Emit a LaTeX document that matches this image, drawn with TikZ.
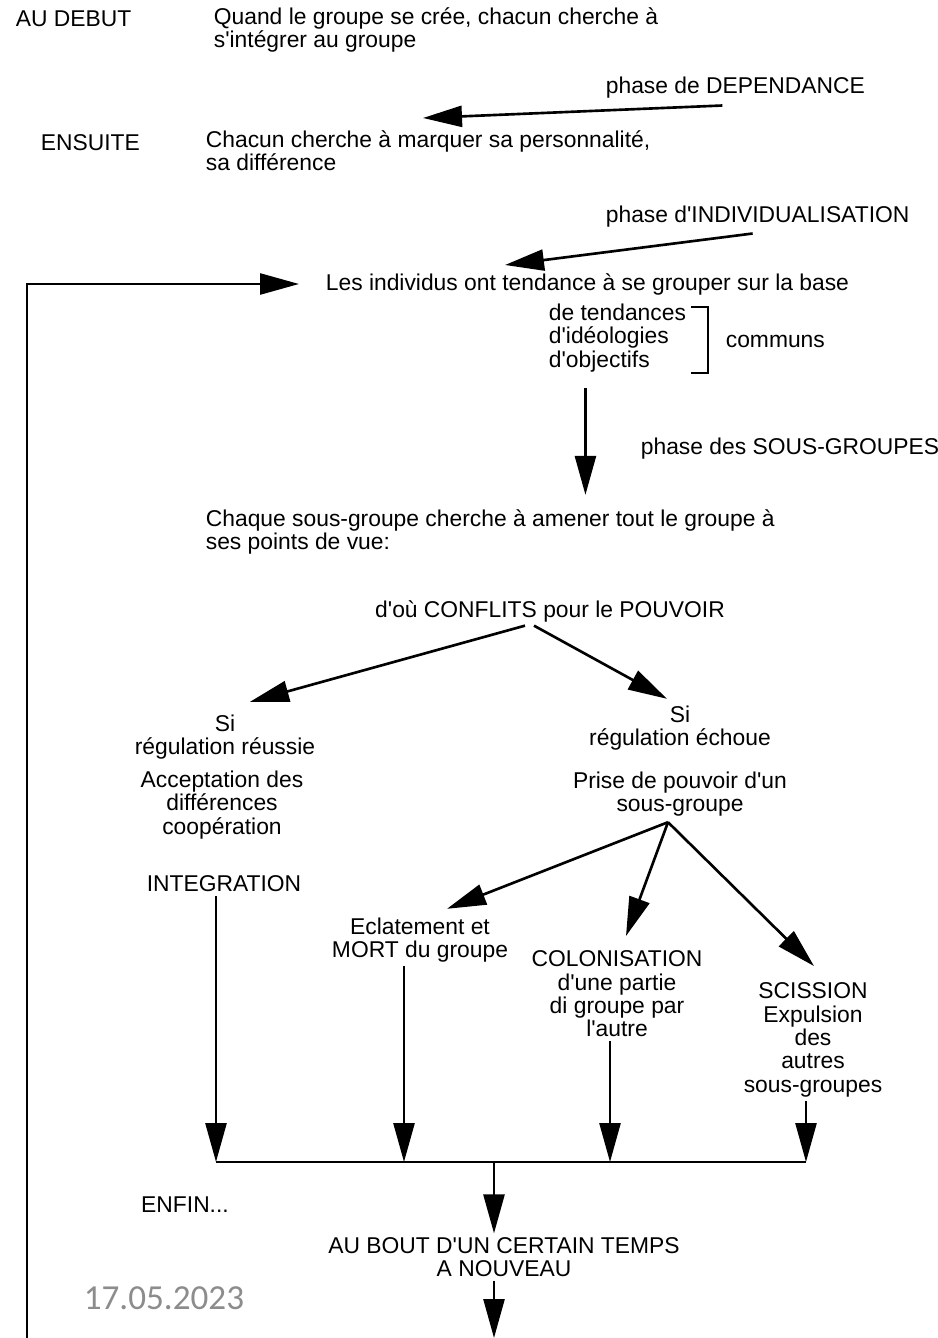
\documentclass[tikz,border=0pt]{standalone}
\usepackage{fontspec}
\setmainfont{Liberation Sans}[Ligatures=TeXOff]
\newfontfamily\datefont{Carlito}
\usetikzlibrary{arrows.meta,positioning,calc}
\definecolor{ink}{HTML}{000000}
\definecolor{datecol}{HTML}{8C8C8C}
\tikzset{
  txt/.style={inner sep=2pt,font=\fontsize{13}{13.3}\selectfont,text=ink},
  blk/.style={txt,align=left},
  ctr/.style={txt,align=center},
  flow/.style={-{Triangle[length=0.78cm,width=0.42cm]},line width=1.5pt,draw=ink},
  rule/.style={line width=1.5pt,draw=ink}
}

\begin{document}
\begin{tikzpicture}[x=0.02cm,y=-0.02cm]
    \useasboundingbox (0,0) rectangle (937,1338);

    % etapes du haut
    \node[txt,anchor=west] (debut) at (12,19) {AU DEBUT};
    \node[blk,anchor=west] (quand) at (210,30) {Quand le groupe se crée, chacun cherche à\\s'intégrer au groupe};
    \node[txt,anchor=west] (dep) at (602,88) {phase de DEPENDANCE};
    \node[txt,anchor=west] (ensuite) at (37,143) {ENSUITE};
    \node[blk,anchor=west] (chacun) at (202,151) {Chacun cherche à marquer sa personnalité,\\sa différence};
    \node[txt,anchor=west] (indiv) at (602,217) {phase d'INDIVIDUALISATION};
    \node[txt,anchor=west] (base) at (322,284) {Les individus ont tendance à se grouper sur la base};
    \node[blk,anchor=west] (liste) at (545,338) {de tendances\\d'idéologies\\d'objectifs};
    \node[txt,anchor=west] (communs) at (722,341) {communs};
    \node[txt,anchor=west] (sousg) at (637,449) {phase des SOUS-GROUPES};
    \node[blk,anchor=west] (chaque) at (202,532) {Chaque sous-groupe cherche à amener tout le groupe à\\ses points de vue:};
    \node[txt] (conflits) at (550,611) {d'où CONFLITS pour le POUVOIR};

    % les deux issues
    \node[ctr] (si1) at (225,737) {Si\\régulation réussie};
    \node[ctr] (accept) at (222,805) {Acceptation des\\différences\\coopération};
    \node[txt] (integ) at (224,884) {INTEGRATION};
    \node[ctr] (si2) at (680,728) {Si\\régulation échoue};
    \node[ctr] (prise) at (680,794) {Prise de pouvoir d'un\\sous-groupe};
    \node[ctr] (eclat) at (420,940) {Eclatement et\\MORT du groupe};
    \node[ctr] (colon) at (617,994) {COLONISATION\\d'une partie\\di groupe par\\l'autre};
    \node[ctr] (sciss) at (813,1040) {SCISSION\\Expulsion\\des\\autres\\sous-groupes};

    % fin
    \node[txt] (enfin) at (185,1205) {ENFIN...};
    \node[ctr] (bout) at (504,1257) {AU BOUT D'UN CERTAIN TEMPS\\A NOUVEAU};
    \node[txt,anchor=west,font=\datefont\fontsize{20}{20}\selectfont,text=datecol] (date) at (80,1298) {17.05.2023};

    \coordinate (loopBot) at (27,1338);
    \coordinate (barL) at (216,1162);
    \coordinate (barE) at (404,1162);
    \coordinate (barM) at (494,1162);
    \coordinate (barC) at (610,1162);
    \coordinate (barR) at (806,1162);

    \draw[flow] ([shift={(-13,3)}]dep.south) -- (423,118);
    \draw[flow] ([shift={(-5,2)}]indiv.south) -- (505,265);
    \draw[flow] (loopBot) |- ([shift={(-23,0)}]base.west);
    \draw[rule] ([shift={(1,7)}]liste.north east) -- ([shift={(18,7)}]liste.north east)
      -- ([shift={(18,-3)}]liste.south east) -- ([shift={(1,-3)}]liste.south east);
    \draw[flow] ([shift={(-32,12)}]liste.south) -- ++(0,107);

    \draw[flow] ([shift={(-25,0)}]conflits.south) -- ([shift={(25,-9)}]si1.north);
    \draw[flow] ([shift={(-16,0)}]conflits.south) -- ([shift={(-13,-3)}]si2.north);

    \draw[flow] ([shift={(-12,2)}]prise.south) -- ([shift={(27,-5)}]eclat.north);
    \draw[flow] ([shift={(-12,2)}]prise.south) -- ([shift={(9,-11)}]colon.north);
    \draw[flow] ([shift={(-12,2)}]prise.south) -- ([shift={(1,-13)}]sciss.north);

    \draw[flow] (integ.south -| barL) -- (barL);
    \draw[flow] (eclat.south -| barE) -- (barE);
    \draw[flow] (colon.south -| barC) -- (barC);
    \draw[flow] (sciss.south -| barR) -- (barR);
    \draw[rule] (barL) -- (barR);
    \draw[flow] (barM) -- (bout.north -| barM);
    \draw[flow] (bout.south -| barM) -- (barM |- loopBot);
  \end{tikzpicture}
\end{document}
